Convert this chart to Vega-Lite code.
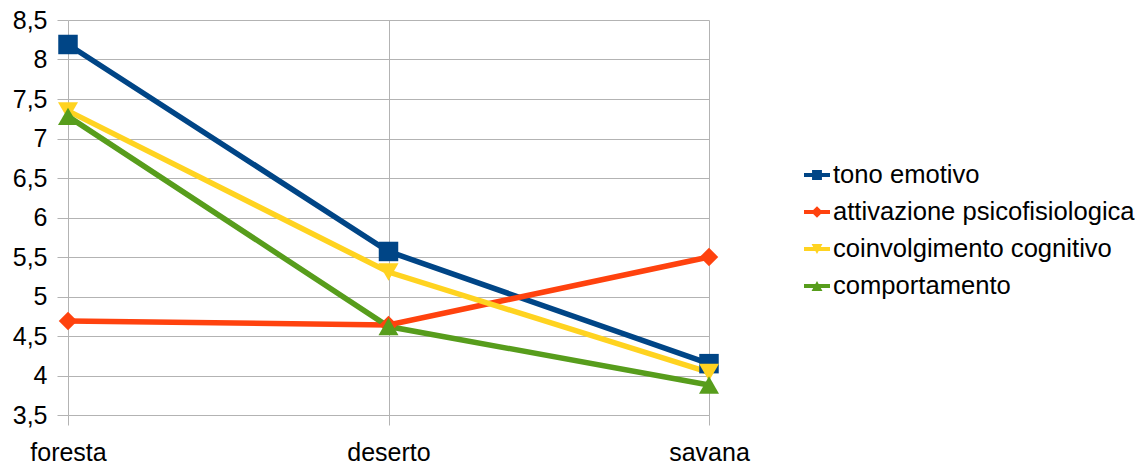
{
  "$schema": "https://vega.github.io/schema/vega-lite/v6.json",
  "autosize": "none",
  "width": 641,
  "height": 395,
  "padding": {"left": 68, "top": 20, "right": 436, "bottom": 49},
  "background": "white",
  "config": {
    "font": "Liberation Sans",
    "view": {"stroke": null},
    "axis": {
      "gridColor": "#b3b3b3",
      "gridOpacity": 1,
      "gridWidth": 1,
      "domainColor": "#b3b3b3",
      "tickColor": "#b3b3b3",
      "labelFont": "Liberation Sans",
      "labelFontSize": 25,
      "labelColor": "#000000",
      "title": null
    }
  },
  "data": {
    "values": [
      {"ambiente": "foresta", "serie": "tono emotivo", "valore": 8.19},
      {"ambiente": "deserto", "serie": "tono emotivo", "valore": 5.57},
      {"ambiente": "savana", "serie": "tono emotivo", "valore": 4.15},
      {"ambiente": "foresta", "serie": "attivazione psicofisiologica", "valore": 4.69},
      {"ambiente": "deserto", "serie": "attivazione psicofisiologica", "valore": 4.64},
      {"ambiente": "savana", "serie": "attivazione psicofisiologica", "valore": 5.5},
      {"ambiente": "foresta", "serie": "coinvolgimento cognitivo", "valore": 7.35},
      {"ambiente": "deserto", "serie": "coinvolgimento cognitivo", "valore": 5.31},
      {"ambiente": "savana", "serie": "coinvolgimento cognitivo", "valore": 4.04},
      {"ambiente": "foresta", "serie": "comportamento", "valore": 7.28},
      {"ambiente": "deserto", "serie": "comportamento", "valore": 4.62},
      {"ambiente": "savana", "serie": "comportamento", "valore": 3.88}
    ]
  },
  "encoding": {
    "x": {
      "field": "ambiente",
      "type": "nominal",
      "sort": ["foresta", "deserto", "savana"],
      "scale": {"type": "point", "padding": 0},
      "axis": {
        "grid": true,
        "labelAngle": 0,
        "tickSize": 10,
        "labelPadding": 15,
        "domain": true
      }
    },
    "y": {
      "field": "valore",
      "type": "quantitative",
      "scale": {"domain": [3.5, 8.5], "nice": false, "zero": false},
      "axis": {
        "values": [3.5, 4, 4.5, 5, 5.5, 6, 6.5, 7, 7.5, 8, 8.5],
        "labelExpr": "replace(format(datum.value, '.1~f'), '.', ',')",
        "tickSize": 11,
        "labelPadding": 10,
        "domain": false
      }
    },
    "color": {
      "field": "serie",
      "type": "nominal",
      "sort": ["tono emotivo", "attivazione psicofisiologica", "coinvolgimento cognitivo", "comportamento"],
      "scale": {
        "domain": ["tono emotivo", "attivazione psicofisiologica", "coinvolgimento cognitivo", "comportamento"],
        "range": ["#004586", "#ff420e", "#ffd320", "#579d1c"]
      },
      "legend": {
        "title": null,
        "orient": "none",
        "legendX": 736,
        "legendY": 142,
        "padding": 0,
        "labelFont": "Liberation Sans",
        "labelFontSize": 25.6,
        "labelColor": "#000000",
        "labelLimit": 0,
        "labelOffset": 3,
        "rowPadding": 10,
        "symbolSize": 676,
        "symbolStrokeWidth": 0,
        "encode": {
          "symbols": {
            "update": {
              "shape": {
                "signal": "datum.value === 'tono emotivo' ? 'M-1,-0.15H1V0.15H-1Z M-0.38,-0.38H0.38V0.38H-0.38Z' : datum.value === 'attivazione psicofisiologica' ? 'M-1,-0.15H1V0.15H-1Z M0,-0.45L0.45,0L0,0.45L-0.45,0Z' : datum.value === 'coinvolgimento cognitivo' ? 'M-1,-0.15H1V0.15H-1Z M-0.42,-0.38H0.42L0,0.38Z' : 'M-1,-0.15H1V0.15H-1Z M-0.42,0.38L0,-0.38L0.42,0.38Z'"
              },
              "fillOpacity": {"value": 1},
              "strokeWidth": {"value": 0}
            }
          }
        }
      }
    }
  },
  "layer": [
    {
      "mark": {"type": "line", "strokeWidth": 5.5, "strokeJoin": "miter"}
    },
    {
      "transform": [{"filter": "datum.serie === 'tono emotivo'"}],
      "mark": {"type": "point", "filled": true, "opacity": 1, "size": 380, "shape": "square"}
    },
    {
      "transform": [{"filter": "datum.serie === 'attivazione psicofisiologica'"}],
      "mark": {"type": "point", "filled": true, "opacity": 1, "size": 340, "shape": "diamond"}
    },
    {
      "transform": [{"filter": "datum.serie === 'coinvolgimento cognitivo'"}],
      "mark": {"type": "point", "filled": true, "opacity": 1, "size": 400, "shape": "triangle-down"}
    },
    {
      "transform": [{"filter": "datum.serie === 'comportamento'"}],
      "mark": {"type": "point", "filled": true, "opacity": 1, "size": 400, "shape": "triangle-up"}
    }
  ]
}
